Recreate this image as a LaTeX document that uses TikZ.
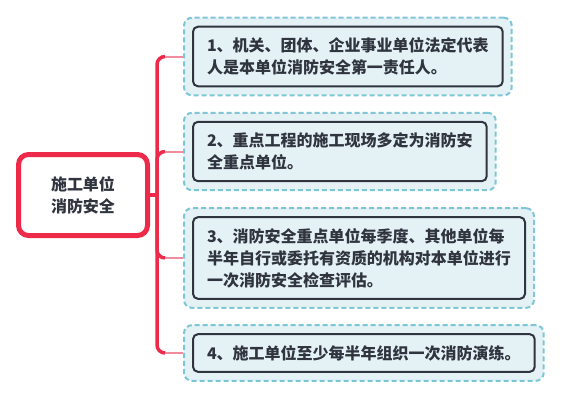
\documentclass[tikz,border=0pt]{standalone}
\usepackage{fontspec}
\setmainfont{Noto Sans CJK SC}
\usetikzlibrary{positioning,fit,backgrounds}
\definecolor{rootred}{HTML}{EE2A4B}
\definecolor{twigpink}{HTML}{F28B9B}
\definecolor{inkgray}{HTML}{30343F}
\definecolor{paleblue}{HTML}{E4F2F6}
\definecolor{dashblue}{HTML}{7CC6D6}
\tikzset{
  rootbox/.style={draw=rootred, line width=5pt, rounded corners=10pt, fill=white,
    minimum width=129pt, minimum height=81pt, align=center, text=inkgray,
    font=\bfseries\fontsize{16}{22}\selectfont},
  itembox/.style={draw=inkgray, line width=2pt, rounded corners=5pt, fill=paleblue,
    align=left, anchor=west, inner xsep=14pt, inner ysep=11pt, text=inkgray,
    font=\bfseries\fontsize{16}{22}\selectfont},
  dashframe/.style={draw=dashblue, line width=2pt, dash pattern=on 5pt off 3pt,
    rounded corners=8pt, fill=paleblue, inner sep=8pt},
  trunk/.style={draw=rootred, line width=3.5pt, rounded corners=8pt},
  twig/.style={draw=twigpink, line width=2pt},
}

\begin{document}
\begin{tikzpicture}[x=1pt, y=-1pt]
\useasboundingbox (0,0) rectangle (563,400);

\node[rootbox] (root) at (83,195) {施工单位\\消防安全};

\node[itembox] (t1) at (192,56.5) {1、机关、团体、企业事业单位法定代表\\人是本单位消防安全第一责任人。};
\node[itembox] (t2) at (192,151.5) {2、重点工程的施工现场多定为消防安\\全重点单位。};
\node[itembox] (t3) at (192,258) {3、消防安全重点单位每季度、其他单位每\\半年自行或委托有资质的机构对本单位进行\\一次消防安全检查评估。};
\node[itembox] (t4) at (192,353) {4、施工单位至少每半年组织一次消防演练。};

\begin{scope}[on background layer]
\node[dashframe, fit=(t1)] (f1) {};
\node[dashframe, fit=(t2)] (f2) {};
\node[dashframe, fit=(t3)] (f3) {};
\node[dashframe, fit=(t4)] (f4) {};
\end{scope}

\coordinate (hub) at (157,195);
\draw[trunk] (root.east) -- (hub);

\path (hub |- f1.west) ++(8,0) coordinate (k1);
\path (hub |- f2.west) ++(8,0) coordinate (k2);
\path (hub |- f3.west) ++(8,0) coordinate (k3);
\path (hub |- f4.west) ++(8,0) coordinate (k4);

\draw[trunk] (hub) |- (k1);
\draw[trunk] (hub) |- (k2);
\draw[trunk] (hub) |- (k3);
\draw[trunk] (hub) |- (k4);

\draw[twig] (k1) -- (f1.west);
\draw[twig] (k2) -- (f2.west);
\draw[twig] (k3) -- (f3.west);
\draw[twig] (k4) -- (f4.west);

\end{tikzpicture}
\end{document}
